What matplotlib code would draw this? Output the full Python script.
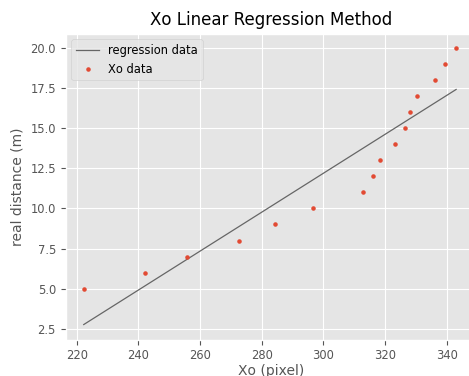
import matplotlib
matplotlib.use("Agg")
import matplotlib.pyplot as plt

plt.style.use("ggplot")
plt.rcParams["font.size"] = 8.3

xo_pixel = [222.3, 242.2, 255.9, 272.7, 284.5, 296.6, 312.8, 316.0, 318.4,
            323.2, 326.5, 328.1, 330.5, 336.1, 339.4, 343.1]
real_distance = [5, 6, 7, 8, 9, 10, 11, 12, 13, 14, 15, 16, 17, 18, 19, 20]
reg_x = [222.3, 343.1]
reg_y = [2.77, 17.4]

fig = plt.figure(figsize=(4.69, 3.76), dpi=100)
ax = fig.add_axes([65.7 / 469, (376 - 339.5) / 376, (476 - 65.7) / 469, (339.5 - 33.7) / 376])

ax.plot(reg_x, reg_y, color="#666666", linewidth=0.9, label="regression data")
ax.plot(xo_pixel, real_distance, ".", color="#E24A33", markersize=4.5, label="Xo data")

ax.set_title("Xo Linear Regression Method")
ax.set_xlabel("Xo (pixel)", labelpad=1)
ax.set_ylabel("real distance (m)")
ax.set_xticks([220, 240, 260, 280, 300, 320, 340])
ax.set_yticks([2.5, 5.0, 7.5, 10.0, 12.5, 15.0, 17.5, 20.0])
ax.set_xlim(216.45, 349.55)
ax.set_ylim(1.84, 20.87)
ax.legend(loc="upper left")

fig.savefig("out.png", dpi=100)
